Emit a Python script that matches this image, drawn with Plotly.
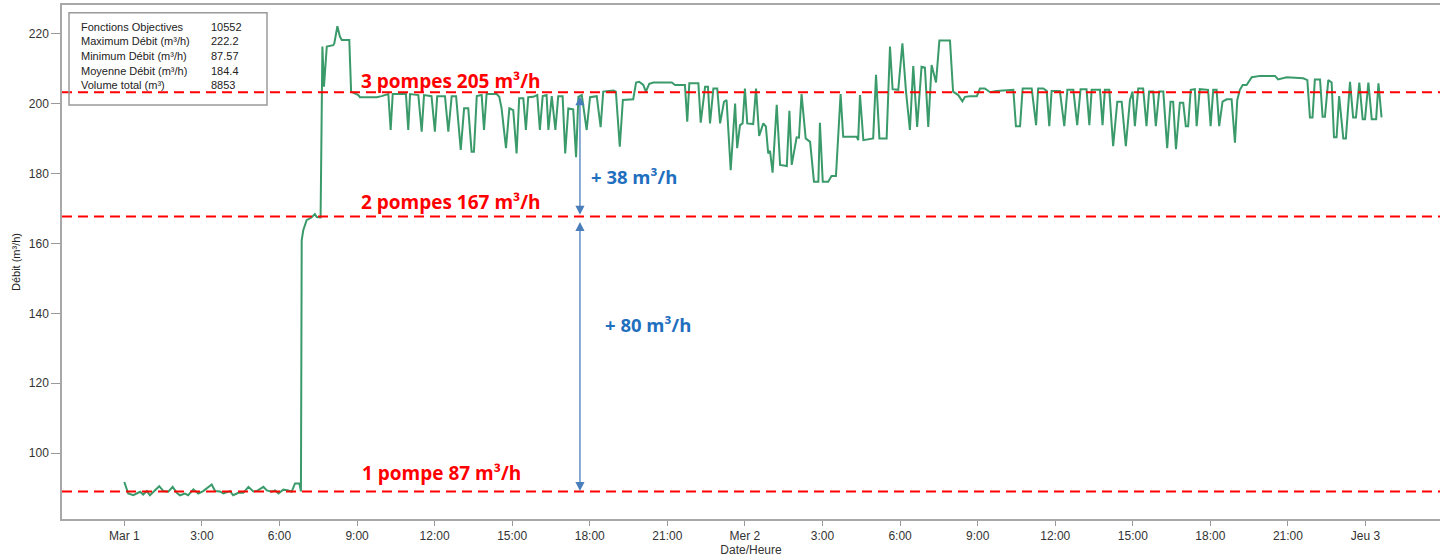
import plotly.graph_objects as go

# ---- data (hours since Mar 1 00:00, flow m³/h) ----
hours = [0.00, 0.15, 0.35, 0.48, 0.61, 0.73, 0.87, 0.99, 1.12, 1.35, 1.51, 1.70, 1.87, 2.03, 2.15, 2.35, 2.47, 2.67, 2.86, 3.05,
         3.38, 3.51, 3.70, 3.83, 4.09, 4.21, 4.41, 4.60, 4.80, 4.99, 5.12, 5.38, 5.51, 5.70, 5.83, 5.96, 6.15, 6.34, 6.47, 6.60,
         6.77, 6.83, 6.86, 6.92, 7.05, 7.25, 7.37, 7.44, 7.59, 7.66, 7.72, 7.83, 8.08, 8.12, 8.24, 8.34, 8.41, 8.70, 8.77, 9.05,
         9.11, 9.76, 9.95, 10.12, 10.21, 10.30, 10.38, 10.89, 10.98, 11.05, 11.37, 11.50, 11.59, 11.88, 12.01, 12.10, 12.40, 12.53, 12.66, 12.83,
         13.01, 13.14, 13.30, 13.43, 13.52, 13.63, 13.82, 13.91, 14.01, 14.40, 14.50, 14.59, 14.76, 14.89, 15.04, 15.17, 15.27, 15.43, 15.53, 15.62,
         15.82, 15.97, 16.07, 16.18, 16.33, 16.40, 16.53, 16.67, 16.78, 16.95, 17.05, 17.17, 17.36, 17.47, 17.56, 17.69, 17.88, 18.01, 18.27, 18.42,
         18.52, 18.91, 19.01, 19.16, 19.28, 19.68, 19.79, 19.91, 20.07, 20.17, 20.30, 20.46, 20.84, 20.97, 21.17, 21.30, 21.68, 21.77, 21.85, 22.20,
         22.29, 22.46, 22.57, 22.65, 22.78, 22.93, 23.04, 23.19, 23.29, 23.45, 23.62, 23.70, 23.81, 23.91, 24.00, 24.09, 24.32, 24.43, 24.55, 24.71,
         24.81, 24.90, 24.97, 25.07, 25.23, 25.36, 25.51, 25.62, 25.72, 25.81, 26.00, 26.09, 26.19, 26.35, 26.52, 26.67, 26.84, 26.90, 27.01, 27.22,
         27.35, 27.52, 27.70, 27.80, 28.32, 28.38, 28.45, 28.58, 28.96, 29.07, 29.20, 29.48, 29.61, 29.71, 29.93, 30.09, 30.23, 30.38, 30.51, 30.66,
         30.83, 30.96, 31.09, 31.22, 31.39, 31.52, 31.93, 32.05, 32.25, 32.41, 32.51, 32.70, 32.97, 33.09, 33.28, 33.48, 33.73, 34.38, 34.48, 34.64,
         34.74, 35.09, 35.26, 35.34, 35.54, 35.67, 35.77, 35.86, 36.18, 36.35, 36.47, 36.70, 36.85, 36.98, 37.21, 37.32, 37.41, 37.73, 37.83, 37.92,
         38.09, 38.24, 38.40, 38.57, 38.73, 38.89, 38.99, 39.08, 39.21, 39.40, 39.53, 39.63, 39.79, 39.89, 40.02, 40.18, 40.33, 40.46, 40.56, 40.67,
         40.82, 40.95, 41.05, 41.14, 41.24, 41.40, 41.47, 41.59, 41.91, 42.01, 42.11, 42.24, 42.34, 42.47, 42.63, 42.82, 42.95, 43.04, 43.14, 43.25,
         43.40, 43.60, 43.92, 44.50, 44.62, 44.95, 45.59, 45.75, 45.85, 45.95, 46.04, 46.24, 46.34, 46.43, 46.56, 46.69, 46.78, 46.88, 46.98, 47.14,
         47.24, 47.40, 47.52, 47.63, 47.76, 47.89, 47.98, 48.11, 48.24, 48.41, 48.50, 48.62]

debit = [91.7, 88.4, 87.9, 88.4, 88.9, 88.1, 89.1, 87.9, 88.9, 90.5, 89.1, 88.9, 90.3, 88.6, 87.9, 88.4, 87.9, 89.6, 88.4, 89.1,
         91.0, 89.1, 89.0, 88.4, 89.1, 87.9, 88.6, 88.6, 90.3, 89.0, 89.1, 90.3, 89.3, 88.9, 89.3, 88.4, 89.5, 89.3, 88.9, 91.3,
         91.3, 89.0, 161.0, 163.8, 166.7, 167.5, 168.4, 167.6, 167.5, 216.4, 204.9, 216.4, 216.8, 217.3, 222.2, 219.2, 218.3, 218.3, 203.5, 202.5,
         201.9, 201.9, 202.2, 202.5, 202.8, 192.5, 202.8, 202.8, 192.5, 202.8, 202.5, 192.0, 202.5, 202.2, 192.0, 202.2, 202.2, 192.0, 202.2, 202.2,
         186.8, 198.7, 198.7, 186.3, 186.3, 202.2, 202.5, 192.5, 202.8, 202.8, 202.0, 198.7, 187.3, 198.7, 198.2, 185.8, 201.6, 201.6, 192.5, 201.9,
         202.0, 202.5, 192.5, 202.2, 202.5, 192.5, 202.2, 192.5, 202.2, 202.2, 185.8, 198.7, 198.4, 184.7, 202.0, 202.5, 192.5, 201.9, 202.2, 193.3,
         203.5, 203.8, 203.5, 187.7, 201.1, 201.3, 206.1, 206.3, 205.4, 203.5, 205.7, 206.1, 206.1, 206.3, 206.1, 205.4, 205.4, 194.9, 205.9, 205.9,
         194.6, 204.9, 204.9, 194.4, 204.4, 204.4, 194.4, 200.6, 201.1, 181.0, 200.1, 187.3, 193.9, 194.4, 204.4, 194.4, 194.2, 204.4, 190.8, 194.4,
         193.5, 185.8, 186.5, 180.3, 199.7, 182.5, 182.2, 182.2, 198.0, 182.5, 190.4, 190.3, 202.8, 190.1, 189.1, 177.7, 177.7, 194.6, 177.7, 177.7,
         179.3, 179.3, 202.8, 190.6, 190.6, 189.6, 202.5, 189.6, 190.1, 208.3, 190.1, 190.1, 216.4, 204.2, 204.0, 217.3, 203.5, 192.5, 210.8, 193.4,
         210.6, 210.4, 193.4, 211.1, 206.1, 218.1, 218.1, 203.5, 202.5, 200.7, 202.0, 202.2, 202.2, 204.4, 204.4, 203.3, 203.7, 204.0, 193.6, 193.6,
         204.4, 204.4, 193.9, 204.4, 204.4, 203.7, 193.6, 203.7, 203.7, 193.6, 204.0, 204.0, 193.9, 204.2, 204.2, 193.9, 204.0, 204.0, 193.9, 204.0,
         204.0, 187.9, 200.6, 200.6, 187.9, 201.1, 203.5, 193.6, 204.4, 204.4, 193.6, 203.5, 203.5, 193.6, 203.5, 203.5, 187.3, 200.6, 200.6, 187.0,
         200.3, 200.3, 193.6, 193.6, 204.0, 204.2, 193.6, 204.2, 204.0, 193.6, 204.0, 204.0, 193.6, 200.6, 201.3, 201.3, 188.9, 201.1, 204.0, 205.4,
         205.4, 207.6, 208.0, 208.0, 207.0, 207.6, 207.3, 206.8, 196.1, 196.1, 207.0, 207.0, 196.3, 196.3, 206.8, 206.1, 190.4, 190.4, 202.2, 190.1,
         190.1, 206.3, 196.1, 196.1, 206.1, 195.6, 195.6, 206.1, 195.6, 195.6, 205.9, 196.1]

tick_hours = [0, 3, 6, 9, 12, 15, 18, 21, 24, 27, 30, 33, 36, 39, 42, 45, 48]
tick_labels = ["Mar 1", "3:00", "6:00", "9:00", "12:00", "15:00", "18:00", "21:00",
               "Mer 2", "3:00", "6:00", "9:00", "12:00", "15:00", "18:00", "21:00", "Jeu 3"]
y_ticks = [100, 120, 140, 160, 180, 200, 220]

pump_levels = [203.3, 167.7, 89.0]
pump_labels = ["3 pompes 205 m³/h", "2 pompes 167 m³/h", "1 pompe 87 m³/h"]
pump_label_pos = [(12.63, 206.4), (12.63, 172.0), (12.25, 94.3)]

delta_labels = ["+ 38 m³/h", "+ 80 m³/h"]
delta_label_pos = [(19.71, 179.1), (20.27, 136.7)]
arrow_hour = 17.62
arrow_spans = [(202.6, 168.2), (166.6, 89.1)]

stats_names = ["Fonctions Objectives", "Maximum Débit (m³/h)", "Minimum Débit (m³/h)",
               "Moyenne Débit (m³/h)", "Volume total (m³)"]
stats_values = ["10552", "222.2", "87.57", "184.4", "8853"]

# ---- layout geometry ----
W, H = 1440, 560
ML, MR, MT, MB = 62, 0, 5, 41
PW, PH = W - ML - MR, H - MT - MB


def px_x(x):
    return (x - ML) / PW


def px_y(y):
    return (H - MB - y) / PH


fig = go.Figure()
fig.add_trace(go.Scatter(x=hours, y=debit, mode="lines",
                         line=dict(color="#3A9A6A", width=2), hoverinfo="x+y"))

shapes = []
for lvl in pump_levels:
    shapes.append(dict(type="line", xref="paper", yref="y", x0=0, x1=1, y0=lvl, y1=lvl,
                       line=dict(color="#FF0000", width=2, dash="10px,6px"), layer="above"))
# stats box
shapes.append(dict(type="rect", xref="paper", yref="paper",
                   x0=px_x(69), x1=px_x(267), y0=px_y(105), y1=px_y(12.7),
                   line=dict(color="#9A9A9A", width=1.5), fillcolor="rgba(0,0,0,0)"))

annotations = []
for txt, (hx, vy) in zip(pump_labels, pump_label_pos):
    annotations.append(dict(x=hx, y=vy, xref="x", yref="y", text="<b>" + txt + "</b>",
                            showarrow=False, font=dict(family="Open Sans", size=19, color="#FF0000")))
for txt, (hx, vy) in zip(delta_labels, delta_label_pos):
    annotations.append(dict(x=hx, y=vy, xref="x", yref="y", text="<b>" + txt + "</b>",
                            showarrow=False, font=dict(family="Open Sans", size=18.5, color="#1F6FBF")))
for top, bot in arrow_spans:
    annotations.append(dict(x=arrow_hour, y=bot, ax=arrow_hour, ay=top, xref="x", yref="y",
                            axref="x", ayref="y", text="", showarrow=True, arrowhead=2,
                            startarrowhead=2, arrowside="end+start", arrowsize=1.4,
                            startarrowsize=1.4, arrowwidth=1.3, arrowcolor="#4A7EBB",
                            standoff=0, startstandoff=0))
row_y = [27, 41.5, 56, 70.5, 84.5]
for name, val, ry in zip(stats_names, stats_values, row_y):
    annotations.append(dict(x=px_x(79), y=px_y(ry), xref="paper", yref="paper", text=name,
                            xanchor="left", yanchor="middle", showarrow=False,
                            font=dict(family="Liberation Sans", size=11, color="#222")))
    annotations.append(dict(x=px_x(209), y=px_y(ry), xref="paper", yref="paper", text=val,
                            xanchor="left", yanchor="middle", showarrow=False,
                            font=dict(family="Liberation Sans", size=11, color="#222")))

fig.update_layout(
    width=W, height=H,
    margin=dict(l=ML, r=MR, t=MT, b=MB),
    plot_bgcolor="white", paper_bgcolor="white",
    showlegend=False,
    shapes=shapes, annotations=annotations,
    font=dict(family="Liberation Sans", size=12, color="#333"),
    xaxis=dict(range=[-2.41, 50.88], tickvals=tick_hours, ticktext=tick_labels,
               ticks="outside", ticklen=5, tickcolor="#999", tickwidth=1,
               showline=True, linecolor="#A8A8A8", linewidth=1.5, mirror=True,
               showgrid=False, zeroline=False,
               tickfont=dict(family="Liberation Sans", size=12, color="#333"),
               title=dict(text="Date/Heure", standoff=3,
                          font=dict(family="Liberation Sans", size=12, color="#333"))),
    yaxis=dict(range=[81.1, 228.3], tickvals=y_ticks,
               ticks="outside", ticklen=9, tickcolor="#999", tickwidth=1,
               showline=True, linecolor="#A8A8A8", linewidth=1.5, mirror=False,
               showgrid=False, zeroline=False,
               tickfont=dict(family="Liberation Sans", size=12, color="#333"),
               title=dict(text="Débit (m³/h)", standoff=6,
                          font=dict(family="Liberation Sans", size=11, color="#222"))),
)

fig.write_html("out.html",
               config={"displayModeBar": False},
               post_script="document.body.style.margin='0';document.body.style.overflow='hidden';")
